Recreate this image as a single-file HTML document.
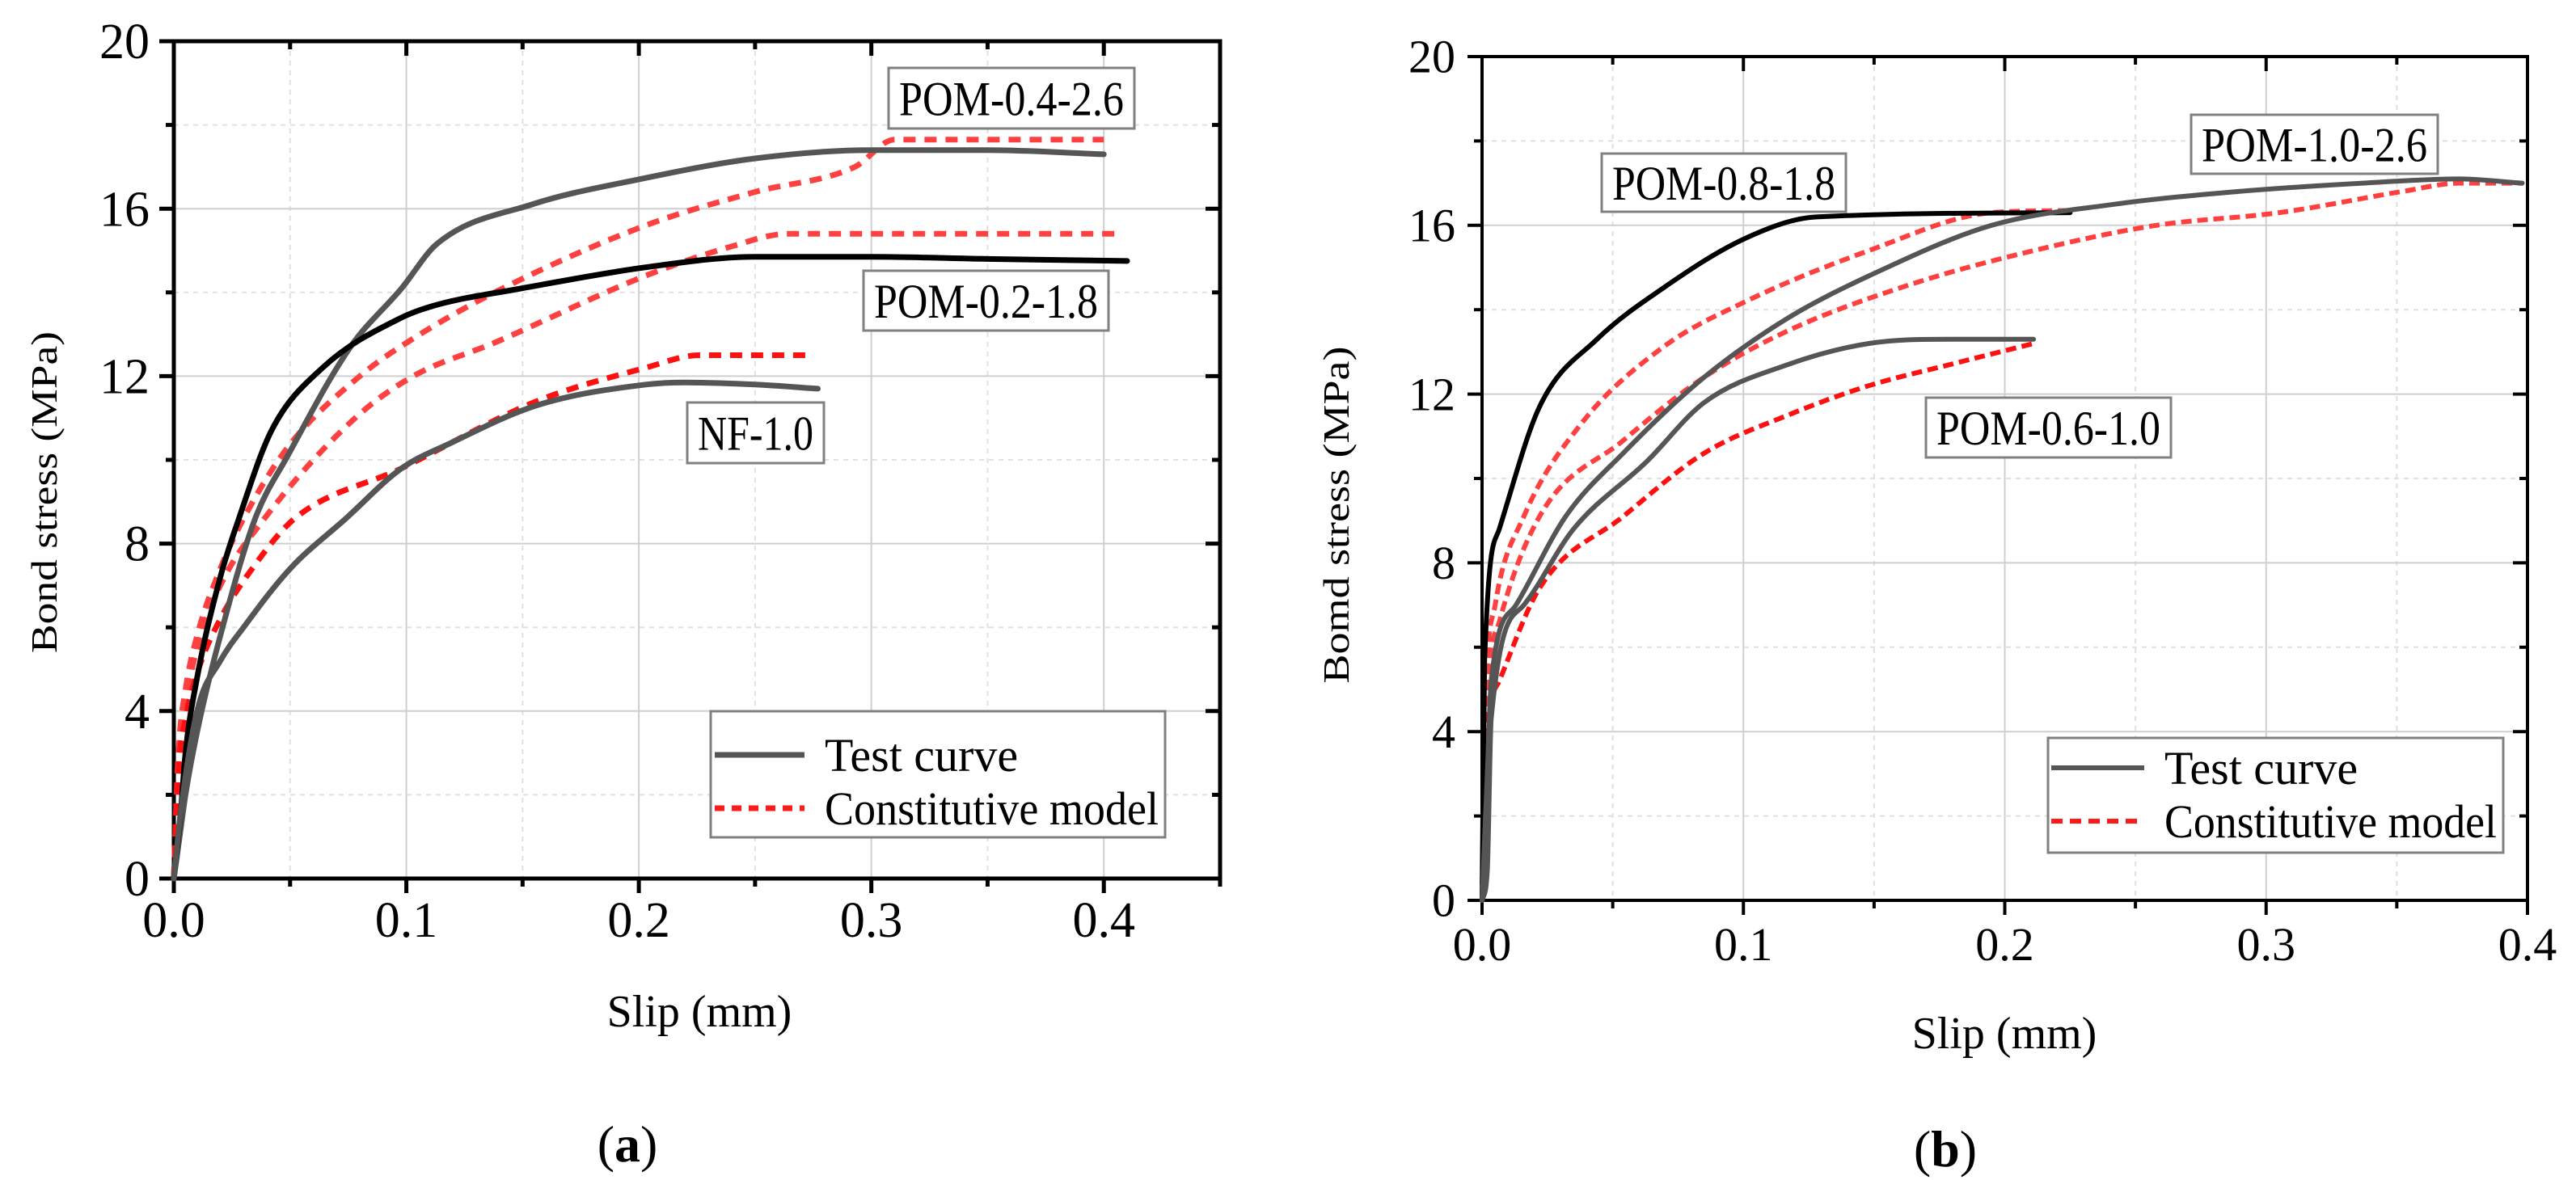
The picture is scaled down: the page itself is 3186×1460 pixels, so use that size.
<!DOCTYPE html>
<html><head><meta charset="utf-8"><style>
html,body{margin:0;padding:0;background:#fff;}
svg{display:block;font-family:"Liberation Serif",serif;}
</style></head><body>
<svg id="fig" width="3186" height="1460" viewBox="0 0 3186 1460"></svg>
<script>
// ---- Panel (a) data: slip (mm), bond stress (MPa) ----
const aTest04S=[0,0.003,0.005,0.01,0.02,0.035,0.049,0.076,0.098,0.113,0.154,0.2,0.25,0.3,0.35,0.4];
const aTest04V=[0,1.2,2.0,3.5,5.8,8.6,10.1,12.7,14.1,15.15,16.1,16.7,17.2,17.4,17.4,17.3];
const aTest02S=[0,0.003,0.005,0.01,0.02,0.028,0.042,0.064,0.098,0.113,0.15,0.203,0.25,0.3,0.35,0.41];
const aTest02V=[0,1.6,3.0,4.8,7.2,8.6,10.7,12.2,13.4,13.7,14.1,14.6,14.85,14.85,14.8,14.75];
const aTestNFS=[0,0.003,0.01,0.02,0.03,0.05,0.074,0.098,0.119,0.156,0.203,0.22,0.25,0.277];
const aTestNFV=[0,1.6,4.0,5.2,6.0,7.4,8.6,9.8,10.4,11.3,11.8,11.85,11.8,11.7];
const aMod04S=[0,0.002,0.005,0.01,0.02,0.03,0.049,0.08,0.103,0.138,0.203,0.25,0.293,0.31,0.4];
const aMod04V=[0,3.0,4.5,5.8,7.4,8.6,10.3,12.0,12.9,14.0,15.6,16.4,17.0,17.65,17.65];
const aMod02S=[0,0.002,0.005,0.01,0.02,0.039,0.078,0.103,0.138,0.203,0.24,0.264,0.406];
const aMod02V=[0,2.8,4.2,5.5,7.0,8.6,11.0,12.0,12.8,14.4,15.1,15.4,15.4];
const aModNFS=[0,0.002,0.005,0.01,0.02,0.035,0.052,0.098,0.156,0.203,0.226,0.274];
const aModNFV=[0,2.6,3.8,4.9,6.2,7.5,8.6,9.8,11.4,12.2,12.5,12.5];
// ---- Panel (b) data ----
const bTest08S=[0,0.001,0.0066,0.022,0.044,0.069,0.101,0.128,0.225];
const bTest08V=[0,5.7,8.8,11.7,13.3,14.5,15.7,16.2,16.3];
const bMod08S=[0,0.001,0.005,0.016,0.038,0.069,0.101,0.148,0.195,0.225];
const bMod08V=[0,4.2,7.0,9.1,11.3,13.1,14.2,15.4,16.3,16.35];
const bTest10S=[0,0.002,0.0035,0.013,0.032,0.054,0.085,0.117,0.148,0.195,0.242,0.289,0.337,0.374,0.398];
const bTest10V=[0,3.0,5.2,7.0,9.1,10.6,12.4,13.8,14.8,16.0,16.5,16.8,17.0,17.1,17.0];
const bMod10S=[0,0.001,0.0066,0.022,0.054,0.085,0.117,0.164,0.211,0.258,0.305,0.352,0.374,0.398];
const bMod10V=[0,3.8,6.6,9.1,10.9,12.4,13.5,14.6,15.4,16.0,16.3,16.8,17.0,17.0];
const bTest06S=[0,0.002,0.0035,0.016,0.035,0.063,0.085,0.117,0.148,0.179,0.211];
const bTest06V=[0,0.7,4.3,7.0,8.8,10.4,11.8,12.7,13.2,13.3,13.3];
const bMod06S=[0,0.001,0.0066,0.022,0.054,0.085,0.117,0.148,0.179,0.211];
const bMod06V=[0,3.2,5.2,7.4,9.1,10.6,11.5,12.2,12.7,13.2];
const yTicks=[0,4,8,12,16,20];
const aXTicks=["0.0","0.1","0.2","0.3","0.4"];
const bXTicks=["0.0","0.1","0.2","0.3","0.4"];

const NS="http://www.w3.org/2000/svg";
const svg=document.getElementById('fig');
function mk(tag,attrs,parent,text){const e=document.createElementNS(NS,tag);for(const k in attrs)e.setAttribute(k,attrs[k]);if(text!==undefined)e.textContent=text;(parent||svg).appendChild(e);return e;}

// monotone cubic path through pixel points
function smoothPath(px,py){
  const n=px.length;if(n<3)return px.map((x,i)=>(i?'L':'M')+x+','+py[i]).join(' ');
  const d=[],m=new Array(n);
  for(let i=0;i<n-1;i++)d.push((py[i+1]-py[i])/(px[i+1]-px[i]));
  m[0]=d[0];m[n-1]=d[n-2];
  for(let i=1;i<n-1;i++){m[i]=(d[i-1]*d[i]<=0)?0:(d[i-1]+d[i])/2;}
  for(let i=0;i<n-1;i++){
    if(d[i]===0){m[i]=0;m[i+1]=0;continue;}
    const a=m[i]/d[i],b=m[i+1]/d[i],s=a*a+b*b;
    if(s>9){const t=3/Math.sqrt(s);m[i]=t*a*d[i];m[i+1]=t*b*d[i];}
  }
  let p='M'+px[0].toFixed(1)+','+py[0].toFixed(1);
  for(let i=0;i<n-1;i++){
    const h=(px[i+1]-px[i])/3;
    p+=' C'+(px[i]+h).toFixed(1)+','+(py[i]+m[i]*h).toFixed(1)+' '+(px[i+1]-h).toFixed(1)+','+(py[i+1]-m[i+1]*h).toFixed(1)+' '+px[i+1].toFixed(1)+','+py[i+1].toFixed(1);
  }
  return p;
}

function panel(cfg){
  const g=mk('g',{});
  
  
  const X=s=>cfg.x0+(s/cfg.xmax)*(cfg.x1-cfg.x0);
  const Y=v=>cfg.y0-(v/20)*(cfg.y0-cfg.y1);
  for(let s=0.05;s<cfg.xmax-1e-6;s+=0.05){
    const major=Math.abs(s*10-Math.round(s*10))<1e-6;
    const l=mk('line',{x1:X(s),x2:X(s),y1:cfg.y1,y2:cfg.y0,stroke:major?'#cfcfcf':'#e0e0e0','stroke-width':2,'stroke-dasharray':major?'none':'6 6'},g);
    
    
  }
  for(let v=2;v<20;v+=2){
    const major=v%4===0;
    const l=mk('line',{x1:cfg.x0,x2:cfg.x1,y1:Y(v),y2:Y(v),stroke:major?'#cfcfcf':'#e0e0e0','stroke-width':2,'stroke-dasharray':major?'none':'6 6'},g);
    
    
  }
  const fr=mk('rect',{x:cfg.x0,y:cfg.y1,width:cfg.x1-cfg.x0,height:cfg.y0-cfg.y1,fill:'none',stroke:'#000','stroke-width':cfg.aw},g);
  
  
  for(let s=0;s<=cfg.xmax+1e-6;s+=0.05){
    const major=Math.abs(s*10-Math.round(s*10))<1e-6;
    const L=major?18:10;
    mk('line',{x1:X(s),x2:X(s),y1:cfg.y0,y2:cfg.y0+L,stroke:'#000','stroke-width':cfg.aw},g);
    mk('line',{x1:X(s),x2:X(s),y1:cfg.y1,y2:cfg.y1+L,stroke:'#000','stroke-width':cfg.aw},g);
  }
  for(let v=0;v<=20;v+=2){
    const L=v%4===0?18:10;
    mk('line',{x1:cfg.x0-L,x2:cfg.x0,y1:Y(v),y2:Y(v),stroke:'#000','stroke-width':cfg.aw},g);
    mk('line',{x1:cfg.x1-L,x2:cfg.x1,y1:Y(v),y2:Y(v),stroke:'#000','stroke-width':cfg.aw},g);
  }
  cfg.xt.forEach((t,i)=>{
    const e=mk('text',{x:X(i*0.1),y:cfg.y0+cfg.xlDy,'font-size':cfg.tf,'text-anchor':'middle'},g,t);
    
    
  });
  yTicks.forEach(v=>{
    const e=mk('text',{x:cfg.ylX,y:Y(v)+cfg.tf*0.34,'font-size':cfg.tf,'text-anchor':'end'},g,String(v));
    
    
  });
  cfg.series.forEach(sr=>{
    const d=smoothPath(sr.s.map(X),sr.v.map(Y));
    const p=mk('path',{d:d,fill:'none',stroke:sr.c,'stroke-width':sr.w,'stroke-linejoin':'round','stroke-linecap':sr.dash?'butt':'round','stroke-dasharray':sr.dash||'none'},g);
    
    
  });
  const xt=mk('text',{x:cfg.xtX,y:cfg.xtY,'font-size':56,'text-anchor':'middle'},g,'Slip (mm)');
  
  
  const yt=mk('text',{x:0,y:0,'font-size':cfg.ytF,'text-anchor':'middle',transform:`translate(${cfg.ytX},${cfg.ytY}) rotate(-90)`,textLength:cfg.ytL,lengthAdjust:'spacingAndGlyphs'},g,cfg.ytText);
  
  
  cfg.boxes.forEach(b=>{
    const r=mk('rect',{x:b[0],y:b[1],width:b[2]-b[0],height:b[3]-b[1],fill:'#fff',stroke:'#808080','stroke-width':3},g);
    
    
    const t=mk('text',{x:(b[0]+b[2])/2,y:(b[1]+b[3])/2+21,'font-size':60,'text-anchor':'middle',textLength:b[2]-b[0]-26,lengthAdjust:'spacingAndGlyphs'},g,b[4]);
    
    
  });
  const L=cfg.leg;
  const lb=mk('rect',{x:L[0],y:L[1],width:L[2]-L[0],height:L[3]-L[1],fill:'#fff',stroke:'#808080','stroke-width':3},g);
  
  
  const l1=mk('line',{x1:L[4],x2:L[5],y1:L[6],y2:L[6],stroke:'#555','stroke-width':cfg.lw},g);
  
  
  const l2=mk('line',{x1:L[4],x2:L[5],y1:L[7],y2:L[7],stroke:'#ff1a1a','stroke-width':cfg.lw,'stroke-dasharray':cfg.legDash},g);
  
  
  const t1=mk('text',{x:L[8],y:L[6]+20,'font-size':58},g,'Test curve');
  
  
  const t2=mk('text',{x:L[8],y:L[7]+20,'font-size':58,textLength:L[2]-L[8]-8,lengthAdjust:'spacingAndGlyphs'},g,'Constitutive model');
  
  
  const cap=mk('text',{x:cfg.capX,y:cfg.capY,'font-size':64,'text-anchor':'middle'},g);
  
  
  mk('tspan',{},cap,'(');mk('tspan',{'font-weight':'bold'},cap,cfg.cap);mk('tspan',{},cap,')');
}

panel({name:'panel-a',x0:215,x1:1509,xmax:0.45,y0:1087,y1:51,aw:5,tf:62,xlDy:72,ylX:185,xt:aXTicks,
  xtX:865,xtY:1270,ytX:70,ytY:609,ytF:46,ytL:398,ytText:'Bond stress (MPa)',
  series:[
    {n:'model-pom-0.4-2.6',s:aMod04S,v:aMod04V,c:'#ff4040',w:7,dash:'15 11'},
    {n:'model-pom-0.2-1.8',s:aMod02S,v:aMod02V,c:'#ff4040',w:7,dash:'15 11'},
    {n:'model-nf-1.0',s:aModNFS,v:aModNFV,c:'#ff1010',w:7,dash:'15 11'},
    {n:'test-pom-0.4-2.6',s:aTest04S,v:aTest04V,c:'#555',w:7},
    {n:'test-pom-0.2-1.8',s:aTest02S,v:aTest02V,c:'#000',w:7},
    {n:'test-nf-1.0',s:aTestNFS,v:aTestNFV,c:'#555',w:7}],
  boxes:[[1099,84,1403,159,'POM-0.4-2.6'],[1068,335,1371,409,'POM-0.2-1.8'],[850,498,1019,573,'NF-1.0']],
  leg:[879,880,1441,1036,884,995,934,1000,1020],lw:7,legDash:'12 9',cap:'a',capX:776,capY:1437});

panel({name:'panel-b',x0:1833,x1:3126,xmax:0.4,y0:1114,y1:70,aw:4,tf:58,xlDy:74,ylX:1800,xt:bXTicks,
  xtX:2479,xtY:1297,ytX:1668,ytY:637,ytF:46,ytL:417,ytText:'Bomd stress (MPa)',
  series:[
    {n:'model-pom-0.8-1.8',s:bMod08S,v:bMod08V,c:'#ff4040',w:6,dash:'13 7'},
    {n:'model-pom-1.0-2.6',s:bMod10S,v:bMod10V,c:'#ff4040',w:6,dash:'13 7'},
    {n:'model-pom-0.6-1.0',s:bMod06S,v:bMod06V,c:'#ff1010',w:6,dash:'13 7'},
    {n:'test-pom-0.8-1.8',s:bTest08S,v:bTest08V,c:'#000',w:6},
    {n:'test-pom-1.0-2.6',s:bTest10S,v:bTest10V,c:'#555',w:6},
    {n:'test-pom-0.6-1.0',s:bTest06S,v:bTest06V,c:'#555',w:6}],
  boxes:[[1981,190,2283,262,'POM-0.8-1.8'],[2710,142,3015,215,'POM-1.0-2.6'],[2382,492,2685,566,'POM-0.6-1.0']],
  leg:[2533,913,3096,1055,2537,2652,950,1016,2677],lw:6,legDash:'14 9',cap:'b',capX:2406,capY:1443});
</script>
</body></html>
